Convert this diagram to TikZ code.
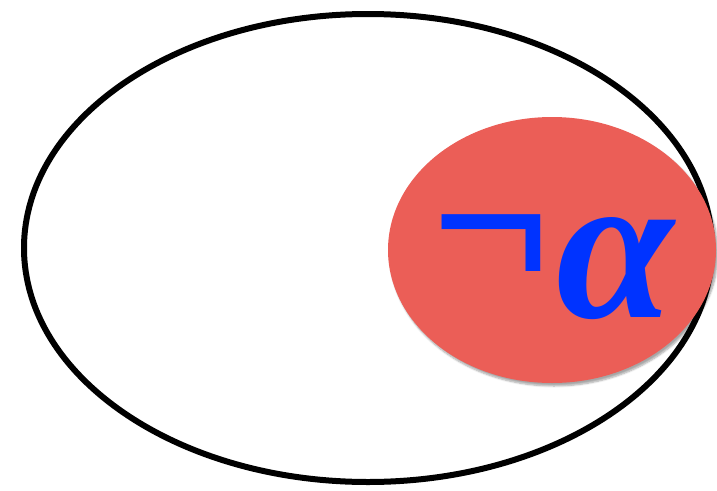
\documentclass[tikz,border=0pt]{standalone}
\usepackage{fontspec}
\setmainfont{Liberation Serif}
\usetikzlibrary{shapes.geometric,shadows.blur}
\definecolor{negred}{HTML}{EB5E57}
\definecolor{negblue}{HTML}{0033FF}

\begin{document}
\begin{tikzpicture}[x=1pt,y=-1pt]
  \tikzset{
    world/.style={ellipse,draw=black,line width=6pt,inner sep=0pt},
    negset/.style={ellipse,fill=negred,inner sep=0pt,
      blur shadow={shadow xshift=2pt,shadow yshift=-3pt,shadow blur steps=6,shadow opacity=35}},
    negtext/.style={text=negblue,font=\fontsize{212}{212}\selectfont\bfseries,inner sep=0pt}
  }
  \useasboundingbox (0,0) rectangle (717,490);
  \node[world,minimum width=688pt,minimum height=468pt] (universe) at (368,248) {};
  \node[negset,minimum width=328pt,minimum height=266pt] (neg) at (552,250) {};
  \node[negtext] (negalpha) at (554,267) {\raisebox{25pt}{¬}\kern4pt\textit{α}};
\end{tikzpicture}
\end{document}
